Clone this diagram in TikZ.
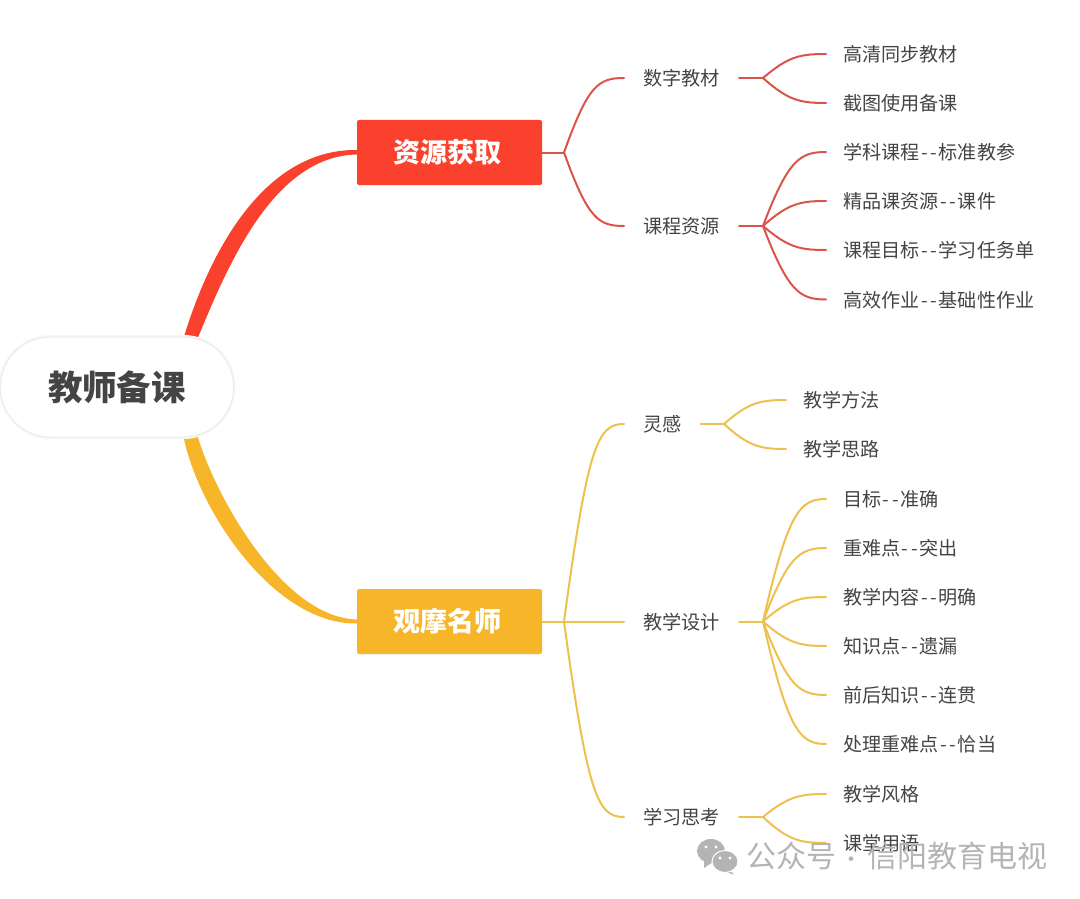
\documentclass[tikz,border=0pt]{standalone}
\usepackage{fontspec}
\newfontfamily\cjk{Noto Sans CJK SC}
\usetikzlibrary{calc,shapes.misc}
\definecolor{inkgray}{HTML}{444444}
\definecolor{markgray}{HTML}{B4B4B4}
\definecolor{boxred}{HTML}{F9412E}
\definecolor{boxyellow}{HTML}{F7B62A}
\definecolor{linered}{HTML}{D9544A}
\definecolor{lineyellow}{HTML}{EEC04E}
\tikzset{
 rootnode/.style={rounded rectangle, fill=white, draw=black!8, line width=1, preaction={draw=black!3, line width=4}, minimum width=240, minimum height=100, text=inkgray, font=\cjk\bfseries\fontsize{34.5}{34.5}\selectfont},
 branchnode/.style={rectangle, rounded corners=2, minimum width=185, minimum height=65, text=white, font=\cjk\bfseries\fontsize{27}{27}\selectfont},
 subnode/.style={anchor=west, inner xsep=19, inner ysep=0, text height=16, text depth=1, text=inkgray, font=\cjk\fontsize{19.2}{19.2}\selectfont},
 leafnode/.style={anchor=west, inner xsep=17, inner ysep=0, text height=16, text depth=1, text=inkgray, font=\cjk\fontsize{19.1}{19.1}\selectfont},
 linkred/.style={draw=linered, line width=2},
 linkyellow/.style={draw=lineyellow, line width=2},
 markbubble/.style={fill=markgray, draw=white, line width=1}
}
\newcommand\dd{\makebox[9.6pt]{-}\makebox[9.6pt]{-}}
\newcommand\limb[3]{\coordinate (kx) at ($(#2)!0.4!(#3.west)$);
 \coordinate (ky) at ($(#2)!0.9!(#3.west)$);
 \draw[#1] (#2) .. controls (kx |- ky) and ($(#3.west)+(-26,0)$) .. (#3.west);}
\begin{document}
\begin{tikzpicture}[x=1pt, y=-1pt, line join=round, line cap=round]
 \useasboundingbox (0,0) rectangle (1080,899);
 % main nodes
 \node[branchnode, fill=boxred] (res) at (449.5,152.5) {\kern-4pt 资源获取};
 \node[branchnode, fill=boxyellow] (obs) at (449.5,621.5) {\kern-4pt 观摩名师};
 \coordinate (rootup) at (190,340);
 \coordinate (rootdown) at (190,434);
 % thick limbs
 \fill[boxred] ($(rootup)+(-7,0)$) .. controls (208,256) and (262,149) .. ($(res.west)+(0,-2.5)$) -- ($(res.west)+(0,2)$) .. controls (272,156) and (226,270) .. ($(rootup)+(7,0)$) -- cycle;
 \fill[boxyellow] ($(rootdown)+(-7,0)$) .. controls (196,506) and (272,624.5) .. ($(obs.west)+(0,2)$) -- ($(obs.west)+(0,-2)$) .. controls (282,617.5) and (214,494) .. ($(rootdown)+(7,0)$) -- cycle;
 \node[rootnode] (root) at (117,387) {教师备课};
 % second level
 \foreach \nm/\y/\txt in {sa/78/数字教材, sb/226/课程资源}
 \node[subnode] (\nm) at (624,\y) {\txt};
 \foreach \nm/\y/\txt in {sc/424/灵感, sd/621.5/教学设计, se/817/学习思考}
 \node[subnode] (\nm) at (624,\y) {\txt};
 % junctions
 \coordinate (jres) at (564,152.5);
 \coordinate (jobs) at (564,621.5);
 \coordinate (ja) at (763,78);
 \coordinate (jb) at (763,226);
 \coordinate (jc) at (724,424);
 \coordinate (jd) at (763,621.5);
 \coordinate (je) at (763,817);
 \draw[linkred] (res.east) -- (jres);
 \draw[linkyellow] (obs.east) -- (jobs);
 \draw[linkred] (sa.east) -- (ja);
 \draw[linkred] (sb.east) -- (jb);
 \draw[linkyellow] (sc.east) -- (jc);
 \draw[linkyellow] (sd.east) -- (jd);
 \draw[linkyellow] (se.east) -- (je);
 \foreach \nm in {sa,sb}{\limb{linkred}{jres}{\nm}}
 \foreach \nm in {sc,se}{\limb{linkyellow}{jobs}{\nm}}
 \draw[linkyellow] (jobs) -- (sd.west);
 % leaves
 \foreach \nm/\j/\y/\txt in {la/ja/54/高清同步教材, lb/ja/103/截图使用备课, lc/jb/152/学科课程\dd 标准教参, ld/jb/201/精品课资源\dd 课件, le/jb/250/课程目标\dd 学习任务单, lf/jb/299.5/高效作业\dd 基础性作业}{
 \node[leafnode] (\nm) at (826,\y) {\txt};
 \limb{linkred}{\j}{\nm}
 }
 \foreach \nm/\y/\txt in {lg/400/教学方法, lh/449/教学思路}{
 \node[leafnode] (\nm) at (786,\y) {\txt};
 \limb{linkyellow}{jc}{\nm}
 }
 \foreach \nm/\j/\y/\txt in {li/jd/499/目标\dd 准确, lj/jd/548/重难点\dd 突出, lk/jd/597/教学内容\dd 明确, ll/jd/646/知识点\dd 遗漏, lm/jd/695/前后知识\dd 连贯, ln/jd/744/处理重难点\dd 恰当, lo/je/794/教学风格, lp/je/843/课堂用语}{
 \node[leafnode] (\nm) at (826,\y) {\txt};
 \limb{linkyellow}{\j}{\nm}
 }
 % watermark
 \fill[markgray] (704,859) -- (704,868) -- (713,862) -- cycle;
 \fill[markgray] (711,851) ellipse (14 and 12);
 \fill[markgray] (730,870) -- (734,874.5) -- (722,871) -- cycle;
 \draw[markbubble] (725,861.5) ellipse (13 and 11);
 \fill[white] (706,847) circle (1.6) (716,847) circle (1.6) (720,858) circle (1.6) (730,858) circle (1.6);
 \node[anchor=west, inner sep=0, text=markgray, font=\cjk\fontsize{30}{30}\selectfont] (mark) at (746,856) {公众号\makebox[31pt]{\fontsize{22}{22}\selectfont ·}信阳教育电视};
\end{tikzpicture}
\end{document}
